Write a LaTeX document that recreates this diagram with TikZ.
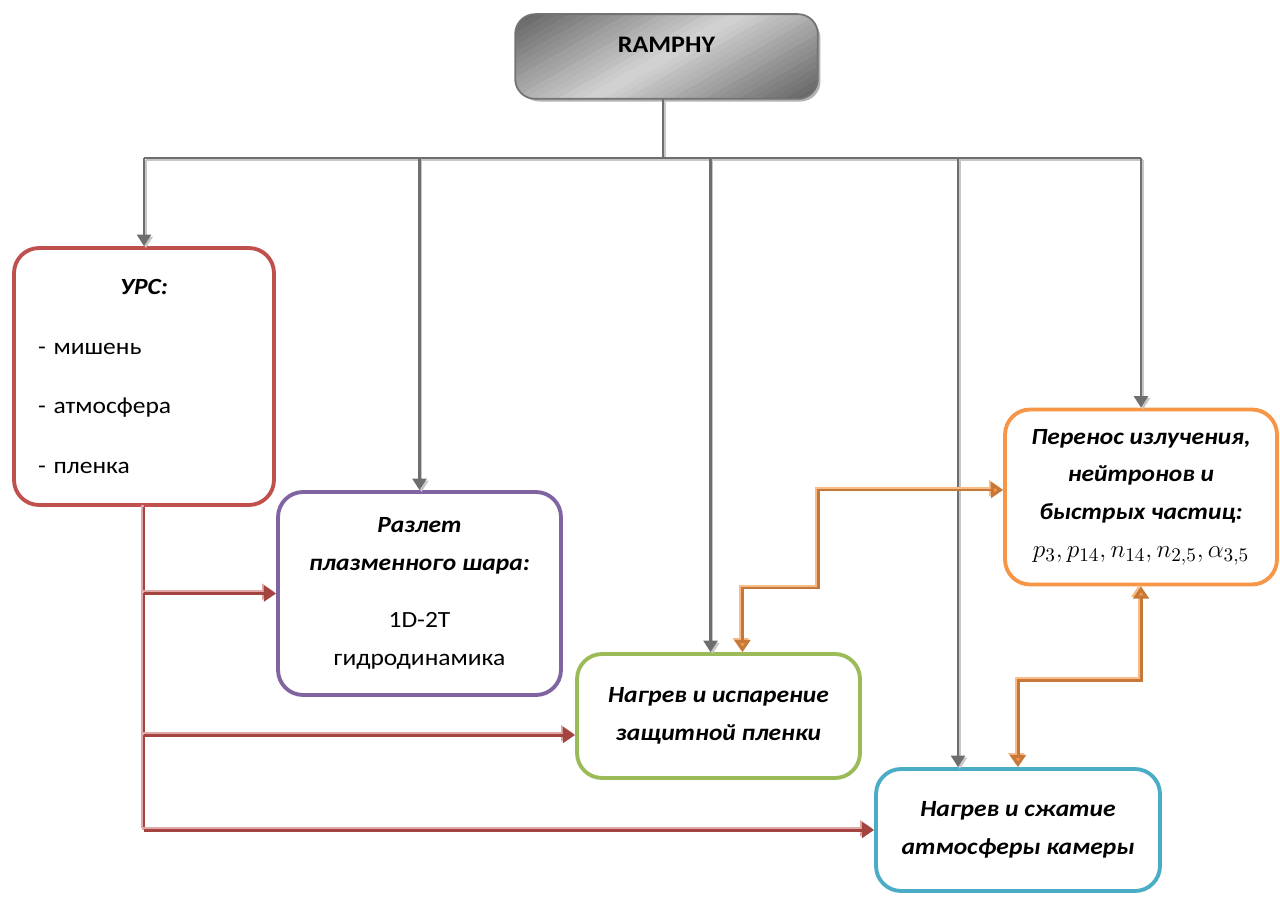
\documentclass[tikz,border=0pt]{standalone}
\usepackage{fontspec}
\setmainfont{Carlito}[FakeStretch=1.1]
\setlength{\parindent}{0pt}
\usetikzlibrary{arrows.meta,shadows,calc}
\definecolor{urcred}{HTML}{C0504D}
\definecolor{razletviolet}{HTML}{8064A2}
\definecolor{plenkagreen}{HTML}{9BBB59}
\definecolor{perenosorange}{HTML}{F79646}
\definecolor{kamerablue}{HTML}{4BACC6}
\definecolor{linkgray}{HTML}{6E6E6E}
\newcommand{\bfit}[1]{\textbf{\textit{#1}}}
\tikzset{
    blockbox/.style={draw, rounded corners=0.5cm, line width=2.2pt, fill=white, align=center, inner sep=0pt,
        font=\fontsize{13.2}{21.5}\selectfont},
    topbox/.style={draw=black!55, line width=1pt, rounded corners=0.4cm},
    graylink/.style={draw=linkgray, line width=1.2pt,
        preaction={draw=black!22, line width=1.2pt, transform canvas={shift={(1.1pt,-1.1pt)}}}},
    grayarrow/.style={graylink, -{Triangle[width=8pt,length=6.5pt]}},
    redlink/.style={draw=urcred!85!black, line width=1.7pt,
        preaction={draw=urcred!50!white, line width=1.7pt, transform canvas={shift={(-1pt,1pt)}}}},
    redarrow/.style={redlink, -{Triangle[width=9pt,length=7pt]}},
    orangearrow/.style={draw=perenosorange!80!black, line width=1.7pt,
        preaction={draw=perenosorange!65!white, line width=1.7pt, transform canvas={shift={(-1pt,1pt)}}},
        {Triangle[width=9pt,length=7pt,fill=perenosorange]}-{Triangle[width=9pt,length=7pt,fill=perenosorange]}}
}
\begin{document}
\begin{tikzpicture}[x=0.02cm, y=-0.02cm]
    \useasboundingbox (0,0) rectangle (1280,898);
    \node (ramphy) at (666.5,56.5) [topbox, fill=black!60, minimum width=6.02cm, minimum height=1.66cm,
        drop shadow={fill=black!30, opacity=1, shadow xshift=2pt, shadow yshift=-2pt}] {};
    \begin{scope}
        \clip[rounded corners=0.4cm] (ramphy.south west) rectangle (ramphy.north east);
        \foreach \i in {0,...,39} {
            \pgfmathsetmacro{\u}{515.5+11.3*\i}
            \pgfmathtruncatemacro{\dark}{17+46*abs(2*(\i+0.5)/40-1)}
            \fill[black!\dark] (\u,13) -- (\u+12.5,13) -- (\u+12.5-152,100) -- (\u-152,100) -- cycle;
        }
    \end{scope}
    \draw[topbox] (ramphy.south west) rectangle (ramphy.north east);
    \node (ramphytext) at ($(ramphy.center)+(0,-12)$) [font=\fontsize{13.5}{16}\selectfont\bfseries] {RAMPHY};
    \node (urc) at (144,376.5) [blockbox, draw=urcred, minimum width=5.2cm, minimum height=5.14cm,
        text width=4.24cm, align=left]
        {\hfill\bfit{УРС:}\hfill\null\\[12.5pt] - мишень\\[12.5pt] - атмосфера\\[12.5pt] - пленка};
    \node (razlet) at (419.5,593.5) [blockbox, draw=razletviolet, minimum width=5.66cm, minimum height=4.06cm]
        {\bfit{Разлет}\\ \bfit{плазменного шара:}\\[11pt] 1D-2T\\ гидродинамика};
    \node (isparenie) at (718.5,716) [blockbox, draw=plenkagreen, minimum width=5.66cm, minimum height=2.48cm]
        {\bfit{Нагрев и испарение}\\ \bfit{защитной пленки}};
    \node (perenos) at (1141,497) [blockbox, draw=perenosorange, minimum width=5.44cm, minimum height=3.5cm]
        {\bfit{Перенос излучения,}\\ \bfit{нейтронов и}\\ \bfit{быстрых частиц:}\\
        {\fontsize{15}{18}\selectfont $p_{3}, p_{14}, n_{14}, n_{2{,}5}, \alpha_{3{,}5}$}};
    \node (szhatie) at (1018,830) [blockbox, draw=kamerablue, minimum width=5.68cm, minimum height=2.44cm]
        {\bfit{Нагрев и сжатие}\\ \bfit{атмосферы камеры}};

    \coordinate (hub) at (663,158);
    \coordinate (ispin) at ($(isparenie.north)+(-8,0)$);
    \coordinate (kamin) at ($(szhatie.north)+(-60,0)$);
    \draw[graylink] (ramphy.south -| hub) -- (hub);
    \draw[graylink] (urc.north |- hub) -- (perenos.north |- hub);
    \draw[grayarrow] (urc.north |- hub) -- (urc.north);
    \draw[grayarrow] (razlet.north |- hub) -- (razlet.north);
    \draw[grayarrow] (ispin |- hub) -- (ispin);
    \draw[grayarrow] (kamin |- hub) -- (kamin);
    \draw[grayarrow] (perenos.north |- hub) -- (perenos.north);

    \coordinate (ispw) at ($(isparenie.west)+(0,19)$);
    \draw[redlink] (urc.south) -- (urc.south |- szhatie.west);
    \draw[redarrow] (urc.south |- razlet.west) -- (razlet.west);
    \draw[redarrow] (urc.south |- ispw) -- (ispw);
    \draw[redarrow] (urc.south |- szhatie.west) -- (szhatie.west);

    \coordinate (ispout) at ($(isparenie.north)+(24,0)$);
    \coordinate (stepa) at (818,490);
    \coordinate (stepb) at (1018,680);
    \draw[orangearrow] (perenos.west |- stepa) -- (stepa) |- (818,588) -| (ispout);
    \draw[orangearrow] (perenos.south) |- (stepb) -- (szhatie.north);
\end{tikzpicture}
\end{document}
